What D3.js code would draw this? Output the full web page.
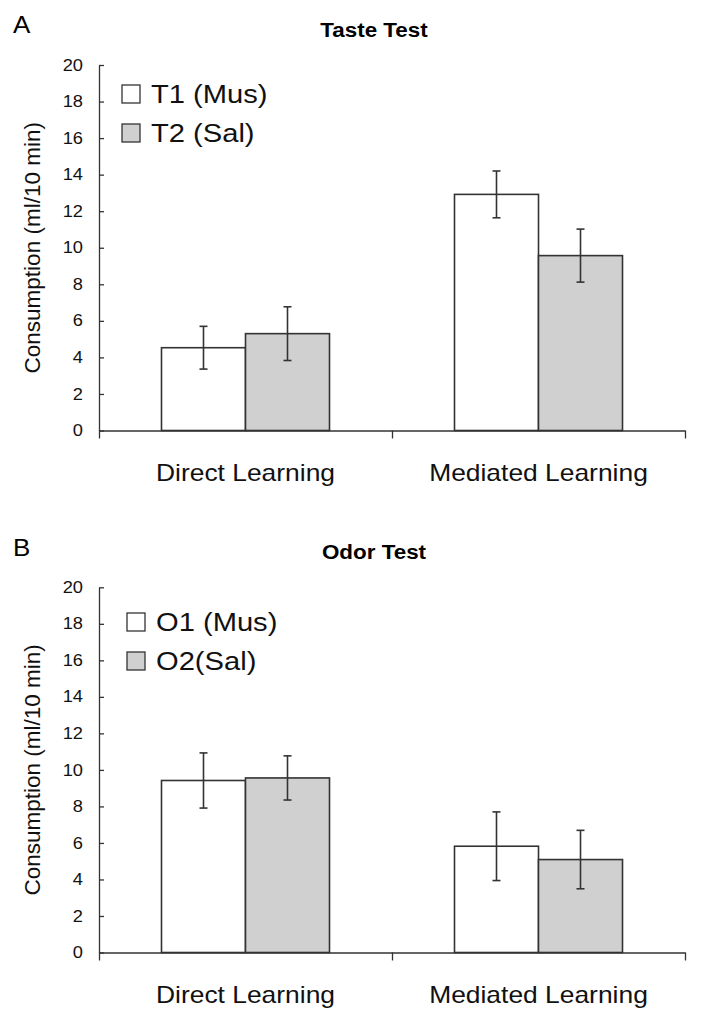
<!DOCTYPE html>
<html>
<head>
<meta charset="utf-8">
<script src="https://cdn.jsdelivr.net/npm/d3@7"></script>
<style>
  html, body { margin: 0; padding: 0; background: #fff; }
  svg { display: block; font-family: "Liberation Sans", Arial, sans-serif; }
</style>
</head>
<body>
<svg id="chart" width="701" height="1023"></svg>
<script>
// ---- data ----
const categories = ["Direct Learning", "Mediated Learning"];
const yTicks = [0, 2, 4, 6, 8, 10, 12, 14, 16, 18, 20];

const tasteSeries = ["T1 (Mus)", "T2 (Sal)"];
const tasteT1 = [4.53, 12.92];
const tasteT2 = [5.30, 9.57];
const tasteT1Err = [1.17, 1.28];
const tasteT2Err = [1.47, 1.45];

const odorSeries = ["O1 (Mus)", "O2(Sal)"];
const odorO1 = [9.42, 5.82];
const odorO2 = [9.56, 5.09];
const odorO1Err = [1.51, 1.88];
const odorO2Err = [1.21, 1.60];

// ---- layout ----
const SX = 1.12; // horizontal stretch of the reference text
const svg = d3.select("#chart");
const fillColors = ["#ffffff", "#d0d0d0"];
const ink = "#333";

function stretch(sel, f) {
  sel.each(function () {
    const n = this.getComputedTextLength();
    d3.select(this).attr("textLength", n * (f || SX)).attr("lengthAdjust", "spacingAndGlyphs");
  });
}

function panel(opts) {
  const g = svg.append("g");
  const left = 99, right = 685;
  const y = d3.scaleLinear().domain([0, 20]).range([opts.y0, opts.y20]);
  const x0 = d3.scaleBand().domain(categories).range([left, right]).padding(0);
  const x1 = d3.scaleBand().domain([0, 1]).range([0, x0.bandwidth()]).paddingInner(0).paddingOuter(0.744);

  // panel letter
  g.append("text").attr("x", 13).attr("y", opts.letterY)
    .attr("font-size", 24).attr("fill", "#000").text(opts.letter).call(stretch, 1.08);

  // title
  g.append("text").attr("x", 374).attr("y", opts.titleY).attr("text-anchor", "middle")
    .attr("font-size", 20).attr("font-weight", "bold").attr("fill", "#000")
    .text(opts.title).call(stretch, 1.12);

  // bars
  const rows = categories.map((c, i) => ({ c, vals: [opts.s1[i], opts.s2[i]], errs: [opts.e1[i], opts.e2[i]] }));
  const grp = g.selectAll("g.cat").data(rows).join("g").attr("class", "cat")
    .attr("transform", d => `translate(${x0(d.c)},0)`);
  grp.selectAll("rect").data(d => d.vals.map((v, k) => ({ v, k })))
    .join("rect")
    .attr("x", d => x1(d.k)).attr("width", x1.bandwidth())
    .attr("y", d => y(d.v)).attr("height", d => y(0) - y(d.v))
    .attr("fill", d => fillColors[d.k]).attr("stroke", ink).attr("stroke-width", 1.6);

  // error bars
  const eb = grp.selectAll("g.err").data(d => d.vals.map((v, k) => ({ v, k, e: d.errs[k] })))
    .join("g").attr("class", "err")
    .attr("transform", d => `translate(${x1(d.k) + x1.bandwidth() / 2},0)`)
    .attr("stroke", ink).attr("stroke-width", 1.6);
  eb.append("line").attr("y1", d => y(d.v + d.e)).attr("y2", d => y(d.v - d.e));
  eb.append("line").attr("x1", -4).attr("x2", 4).attr("y1", d => y(d.v + d.e)).attr("y2", d => y(d.v + d.e));
  eb.append("line").attr("x1", -4).attr("x2", 4).attr("y1", d => y(d.v - d.e)).attr("y2", d => y(d.v - d.e));

  // y axis
  const ya = g.append("g").attr("transform", `translate(${left},0)`)
    .call(d3.axisLeft(y).tickValues(yTicks).tickSizeInner(-5).tickSizeOuter(0).tickPadding(16));
  ya.select(".domain").attr("stroke", ink).attr("stroke-width", 1.3);
  ya.selectAll(".tick line").attr("stroke", ink).attr("stroke-width", 1.3);
  ya.selectAll(".tick text").attr("font-size", 16).attr("font-family", "Liberation Sans, Arial, sans-serif")
    .attr("fill", "#111").call(stretch, 1.14);

  // x axis (category boundary ticks)
  const xb = d3.scaleLinear().domain([0, categories.length]).range([left, right]);
  const xa = g.append("g").attr("transform", `translate(0,${y(0)})`)
    .call(d3.axisBottom(xb).tickValues(d3.range(categories.length + 1)).tickSizeInner(8).tickSizeOuter(0).tickFormat(""));
  xa.select(".domain").attr("stroke", ink).attr("stroke-width", 1.3);
  xa.selectAll(".tick line").attr("stroke", ink).attr("stroke-width", 1.3);

  // category labels
  g.selectAll("text.cl").data(categories).join("text").attr("class", "cl")
    .attr("x", d => x0(d) + x0.bandwidth() / 2).attr("y", y(0) + 50)
    .attr("text-anchor", "middle").attr("font-size", 24).attr("fill", "#111")
    .text(d => d).call(stretch, 1.1);

  // y label
  g.append("text")
    .attr("transform", `translate(40,${(opts.y0 + opts.y20) / 2}) rotate(-90)`)
    .attr("text-anchor", "middle").attr("font-size", 22.5).attr("fill", "#111")
    .text("Consumption (ml/10 min)");

  // legend
  const lg = g.selectAll("g.leg").data(opts.series).join("g").attr("class", "leg")
    .attr("transform", (d, i) => `translate(${opts.legX},${opts.legY[i]})`);
  lg.append("rect").attr("x", 0).attr("y", -9).attr("width", 18).attr("height", 18)
    .attr("fill", (d, i) => fillColors[i]).attr("stroke", ink).attr("stroke-width", 1.3);
  lg.append("text").attr("x", 29).attr("dy", "0.36em").attr("font-size", 26).attr("fill", "#111")
    .text(d => d).call(stretch, 1.12);
}

panel({ letter: "A", letterY: 33, title: "Taste Test", titleY: 37,
  y0: 430.5, y20: 65, series: tasteSeries,
  s1: tasteT1, s2: tasteT2, e1: tasteT1Err, e2: tasteT2Err,
  legX: 122, legY: [94, 133] });

panel({ letter: "B", letterY: 556, title: "Odor Test", titleY: 559,
  y0: 952.5, y20: 587.3, series: odorSeries,
  s1: odorO1, s2: odorO2, e1: odorO1Err, e2: odorO2Err,
  legX: 127, legY: [622, 661] });
</script>
</body>
</html>
